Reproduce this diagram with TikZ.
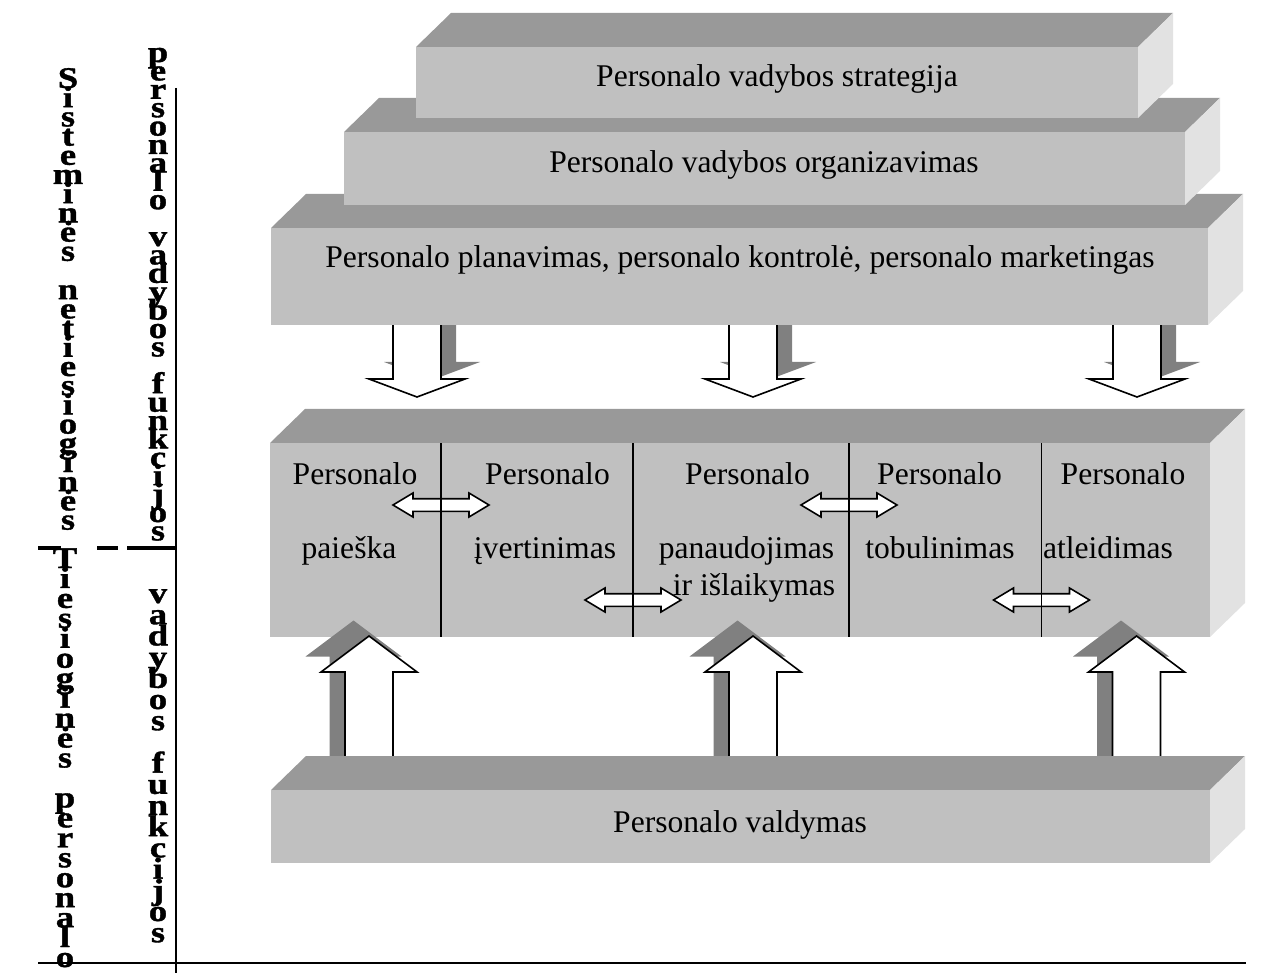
\documentclass[tikz,border=0pt]{standalone}
\usepackage{fontspec}
\setmainfont{Liberation Serif}
\newfontfamily\capfont{Liberation Serif}[UprightFont=* Bold, RawFeature={embolden=1.2}]
\definecolor{slabtop}{HTML}{999999}
\definecolor{slabfront}{HTML}{C0C0C0}
\definecolor{slabside}{HTML}{E2E2E2}
\definecolor{shadowgray}{HTML}{808080}
% a slab: left x, right x, front top y, front bottom y (depth 35 right, 34 up)
\newcommand\slabdraw[4]{%
  \fill[slabtop] (#1,#3) -- ++(35,-34) -- (#2+35,#3-34) -- (#2,#3) -- cycle;
  \fill[slabside] (#2,#3) -- (#2+35,#3-34) -- (#2+35,#4-34) -- (#2,#4) -- cycle;
  \fill[slabfront] (#1,#3) rectangle (#2,#4);
}
% one widened bold letter of a vertical caption
\newcommand\capletter[1]{\scalebox{1.22}[1]{#1}}
\begin{document}
\begin{tikzpicture}[x=1pt,y=-1pt,
  boxtext/.style={font=\fontsize{31.6}{36}\selectfont, inner sep=0pt, anchor=base},
  vletter/.style={font=\capfont\fontsize{30}{30}\selectfont, inner sep=0pt, anchor=base},
  blockarrow/.style={fill=white, draw=black, line width=1.6pt, line join=miter},
  arrowshadow/.style={fill=shadowgray},
  divider/.style={draw=black, line width=1.2pt},
  frameline/.style={draw=black, line width=2pt},
]
\useasboundingbox (0,0) rectangle (1261,973);

% ---------- downward arrows from the upper slab ----------
\foreach \cx [count=\k] in {417,753,1137}{
  \coordinate (down\k) at (\cx,397);
  \fill[arrowshadow] ([shift={(15,-17)}]down\k) -- ++(48,-18) -- ++(-24,0) -- ++(0,-79)
     -- ++(-48,0) -- ++(0,79) -- ++(-24,0) -- cycle;
  \draw[blockarrow] (down\k) -- ++(48,-18) -- ++(-24,0) -- ++(0,-79)
     -- ++(-48,0) -- ++(0,79) -- ++(-24,0) -- cycle;
}

% ---------- stacked slabs ----------
\slabdraw{271}{1208}{228}{325}
\slabdraw{344}{1185}{132}{205}
\slabdraw{416}{1138}{47}{118}
\node[boxtext] (strategy) at (777,87) {Personalo vadybos strategija};
\node[boxtext] (organise) at (764,173) {Personalo vadybos organizavimas};
\node[boxtext] (planning) at (740,268) {Personalo planavimas, personalo kontrolė, personalo marketingas};

% ---------- functions slab ----------
\slabdraw{270}{1210}{443}{637}
\foreach \cx/\cy [count=\k] in {441/505, 849/505, 633/600, 1041.5/600}{
  \coordinate (link\k) at (\cx,\cy);
  \draw[blockarrow] ([shift={(-48,0)}]link\k) -- ++(20,-12) -- ++(0,5.7) -- ++(56,0)
     -- ++(0,-5.7) -- ++(20,12) -- ++(-20,12) -- ++(0,-5.7) -- ++(-56,0)
     -- ++(0,5.7) -- cycle;
}
\foreach \x [count=\k] in {441,633,849,1041.5}{
  \coordinate (divtop\k) at (\x,443);
  \coordinate (divbot\k) at (\x,637);
  \draw[divider] (divtop\k) -- (divbot\k);
}
\node[boxtext] (fA1) at (355,484) {Personalo};
\node[boxtext] (fB1) at (547.5,484) {Personalo};
\node[boxtext] (fC1) at (747.5,484) {Personalo};
\node[boxtext] (fD1) at (939.5,484) {Personalo};
\node[boxtext] (fE1) at (1123,484) {Personalo};
\node[boxtext] (fA2) at (349,558) {paieška};
\node[boxtext] (fB2) at (545,558) {įvertinimas};
\node[boxtext] (fC2) at (746.5,558) {panaudojimas};
\node[boxtext] (fD2) at (940,558) {tobulinimas};
\node[boxtext] (fE2) at (1108,558) {atleidimas};
\node[boxtext] (fC3) at (754,595) {ir išlaikymas};

% ---------- upward arrows from the base slab ----------
\foreach \cx [count=\k] in {369,753,1136.5}{
  \coordinate (up\k) at (\cx,636);
  \fill[arrowshadow] ([shift={(-15.5,-15.5)}]up\k) -- ++(48,36) -- ++(-24,0) -- ++(0,130)
     -- ++(-48,0) -- ++(0,-130) -- ++(-24,0) -- cycle;
  \draw[blockarrow] (up\k) -- ++(48,36) -- ++(-24,0) -- ++(0,130)
     -- ++(-48,0) -- ++(0,-130) -- ++(-24,0) -- cycle;
}

% ---------- base slab ----------
\slabdraw{271}{1210}{790}{863}
\node[boxtext] (base) at (740,832) {Personalo valdymas};

% ---------- axes on the left ----------
\coordinate (axtop) at (176,88);
\coordinate (axbot) at (176,973);
\coordinate (baseL) at (38,963);
\coordinate (baseR) at (1246,963);
\coordinate (splitL) at (38,548);
\coordinate (splitR) at (176,548);
\draw[frameline] (axtop) -- (axbot);
\draw[draw=black, line width=1.5pt] (baseL) -- (baseR);
\draw[draw=black, line width=4pt, dash pattern=on 23pt off 36pt on 21pt off 9pt on 60pt] (splitL) -- (splitR);

% ---------- vertical captions, one letter per line ----------
\foreach \ch [count=\i from 0] in {S,i,s,t,e,m,i,n,ė,s,{},n,e,t,i,e,s,i,o,g,i,n,ė,s}{
  \node[vletter] (capA\i) at (68,88+19.2*\i) {\capletter{\ch}};
}
\foreach \ch [count=\i from 0] in {p,e,r,s,o,n,a,l,o,{},v,a,d,y,b,o,s,{},f,u,n,k,c,i,j,o,s}{
  \node[vletter] (capB\i) at (158,62+18.4*\i) {\capletter{\ch}};
}
\foreach \ch [count=\i from 0] in {T,i,e,s,i,o,g,i,n,ė,s,{},p,e,r,s,o,n,a,l,o}{
  \node[vletter] (capC\i) at (65,568+19.95*\i) {\capletter{\ch}};
}
\foreach \ch [count=\i from 0] in {v,a,d,y,b,o,s,{},f,u,n,k,c,i,j,o,s}{
  \node[vletter] (capD\i) at (158,603+21.2*\i) {\capletter{\ch}};
}
\end{tikzpicture}
\end{document}
